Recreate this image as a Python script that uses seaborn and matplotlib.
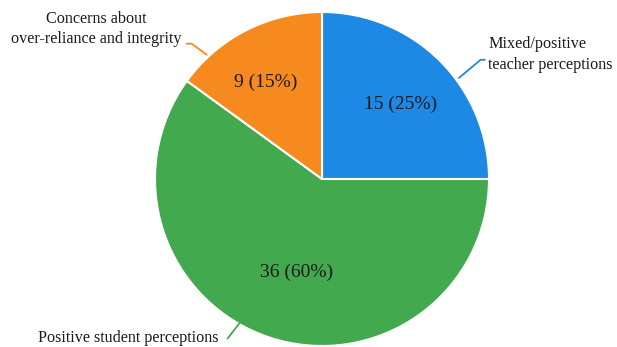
import matplotlib
matplotlib.use("Agg")
import matplotlib.pyplot as plt
import seaborn as sns

categories = ["Mixed/positive\nteacher perceptions",
              "Positive student perceptions",
              "Concerns about\nover-reliance and integrity"]
counts = [15, 36, 9]
colors = ["#1E88E5", "#43A94E", "#F68A1E"]

sns.set_theme(style="white")
plt.rcParams["font.family"] = ["Liberation Serif", "DejaVu Serif"]

fig = plt.figure(figsize=(6.17, 3.47), dpi=100)
ax = fig.add_axes([155 / 617, 1 / 347, 334 / 617, 334 / 347])

wedges, _ = ax.pie(counts, colors=colors, startangle=90, counterclock=False,
                   wedgeprops=dict(edgecolor="white", linewidth=1.5))
ax.set_xlim(-1, 1)
ax.set_ylim(-1, 1)
ax.set_aspect("equal")
ax.axis("off")

total = sum(counts)
value_pos = [(0.47, 0.45), (-0.15, -0.56), (-0.34, 0.58)]
for v, (x, y) in zip(counts, value_pos):
    ax.text(x, y, f"{v} ({v / total:.0%})", ha="center", va="center",
            fontsize=14, color="#1a1a1a")

# outside labels with short leader lines
leaders = [
    [(0.82, 0.605), (0.95, 0.714), (0.975, 0.714)],
    [(-0.494, -0.863), (-0.565, -0.955)],
    [(-0.69, 0.744), (-0.78, 0.81), (-0.81, 0.81)],
]
label_pos = [((0.995, 0.745), "left"), ((-0.62, -0.955), "right"), ((-1.35, 0.90), "center")]
for cat, col, pts, ((x, y), ha) in zip(categories, colors, leaders, label_pos):
    xs, ys = zip(*pts)
    ax.plot(xs, ys, color=col, lw=1.3, clip_on=False)
    ax.text(x, y, cat, ha=ha, va="center", fontsize=11.6, color="#1a1a1a",
            linespacing=1.35, multialignment="left" if ha == "left" else "center")

fig.savefig("out.png", dpi=100)
